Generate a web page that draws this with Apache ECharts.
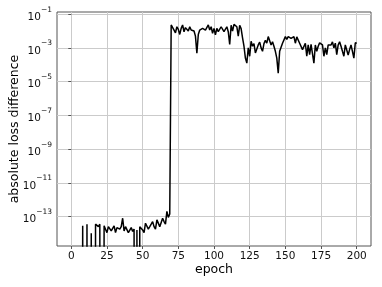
<!DOCTYPE html>
<html>
<head>
<meta charset="utf-8">
<script src="https://cdn.jsdelivr.net/npm/echarts@6/dist/echarts.min.js"></script>
<style>html,body{margin:0;padding:0;background:#fff;}#c{width:382px;height:287px;}</style>
</head>
<body>
<div id="c"></div>
<script>
const epochs = [
  0,1,2,3,4,5,6,7,8,9,10,11,12,13,14,15,16,17,18,19,
  20,21,22,23,24,25,26,27,28,29,30,31,32,33,34,35,36,37,38,39,
  40,41,42,43,44,45,46,47,48,49,50,51,52,53,54,55,56,57,58,59,
  60,61,62,63,64,65,66,67,68,69,70,71,72,73,74,75,76,77,78,79,
  80,81,82,83,84,85,86,87,88,89,90,91,92,93,94,95,96,97,98,99,
  100,101,102,103,104,105,106,107,108,109,110,111,112,113,114,115,116,117,118,119,
  120,121,122,123,124,125,126,127,128,129,130,131,132,133,134,135,136,137,138,139,
  140,141,142,143,144,145,146,147,148,149,150,151,152,153,154,155,156,157,158,159,
  160,161,162,163,164,165,166,167,168,169,170,171,172,173,174,175,176,177,178,179,
  180,181,182,183,184,185,186,187,188,189,190,191,192,193,194,195,196,197,198,199,
  200
];
// absolute loss difference per epoch (0 = exactly zero, clipped at bottom like matplotlib)
const lossDiff = [
  0,0,0,0,0,0,0,0,2.8e-14,3.2e-14,
  0,3.5e-14,2.8e-14,0,1.0e-14,1.1e-14,0,3.5e-14,4.0e-14,2.5e-14,
  3.5e-14,3.2e-14,0,2.8e-14,2.8e-14,1.1e-14,2.5e-14,2.8e-14,1.4e-14,2.0e-14,
  2.8e-14,1.1e-14,2.2e-14,2.8e-14,1.8e-14,2.5e-14,7.9e-14,1.4e-14,2.5e-14,2.8e-14,
  1.1e-14,1.4e-14,2.2e-14,1.3e-14,1.8e-14,0,1.6e-14,0,2.5e-14,2.8e-14,
  1.6e-14,1.1e-14,4.0e-14,3.2e-14,1.8e-14,2.5e-14,3.5e-14,5.0e-14,2.5e-14,1.8e-14,
  6.3e-14,5.0e-14,2.5e-14,2.0e-14,7.9e-14,5.0e-14,3.5e-14,2.0e-13,8.9e-14,1.4e-13,
  2.3e-2,2.0e-2,1.15e-2,7.9e-3,1.8e-2,1.26e-2,6.3e-3,1.45e-2,2.3e-2,9.1e-3,
  1.6e-2,1.26e-2,1.0e-2,1.8e-2,1.15e-2,1.45e-2,1.0e-2,5.0e-3,4.8e-4,6.3e-3,
  1.15e-2,9.1e-3,1.45e-2,1.8e-2,1.15e-2,1.26e-2,2.3e-2,1.15e-2,1.8e-2,7.4e-3,
  1.45e-2,5.9e-3,1.45e-2,9.1e-3,7.4e-3,1.8e-2,2.3e-2,9.1e-3,1.15e-2,1.8e-2,
  9.1e-3,1.6e-3,2.2e-2,1.0e-2,2.5e-2,2.8e-2,1.8e-2,5.0e-3,2.2e-2,1.4e-2,
  4.0e-3,1.26e-3,2.5e-4,1.26e-4,1.0e-3,3.2e-4,2.5e-3,1.26e-3,1.8e-3,5.0e-4,
  4.0e-4,1.5e-3,2.2e-3,1.0e-3,6.3e-4,1.8e-3,2.8e-3,1.9e-3,4.7e-3,3.7e-3,
  1.5e-3,2.3e-3,1.26e-3,6.3e-4,2.5e-4,3.2e-5,6.3e-4,1.1e-3,1.9e-3,1.5e-3,
  4.7e-3,3.2e-3,4.7e-3,5.6e-3,3.7e-3,4.7e-3,4.7e-3,1.9e-3,4.5e-3,3.7e-3,
  1.9e-3,2.0e-3,7.9e-4,6.3e-4,1.9e-3,3.2e-4,1.5e-3,4.0e-4,1.6e-3,1.9e-3,
  1.26e-4,1.5e-3,6.3e-4,1.26e-3,2.0e-3,2.3e-3,1.5e-3,3.2e-4,1.0e-3,4.0e-4,
  1.5e-3,1.2e-3,1.5e-3,2.3e-3,1.0e-3,1.9e-3,4.0e-4,1.5e-3,2.3e-3,1.26e-3,
  6.3e-4,3.2e-4,1.5e-3,1.9e-3,3.8e-4,7.9e-4,1.5e-3,6.3e-4,2.5e-4,2.0e-3,
  1.9e-3
];
const xTicks = [0, 25, 50, 75, 100, 125, 150, 175, 200];
const yTicks = [1e-13, 1e-11, 1e-9, 1e-7, 1e-5, 1e-3, 1e-1];
const xLabel = 'epoch';
const yLabel = 'absolute loss difference';

const CLIP_FLOOR = 1e-100; // zeros are drawn off the bottom of the log axis, as matplotlib clips them
const points = epochs.map((e, i) => [e, lossDiff[i] > 0 ? lossDiff[i] : CLIP_FLOOR]);

function supNum(n) {
  return (n < 0 ? '\u2212' : '') + String(Math.abs(n));
}

const FONT = 'DejaVu Sans';
const chart = echarts.init(document.getElementById('c'), null, {renderer: 'canvas'});
chart.setOption({
  animation: false,
  backgroundColor: '#fff',
  grid: {left: 57, right: 11, top: 12, bottom: 41, containLabel: false, outerBoundsMode: 'none',
         show: true, borderColor: '#555', borderWidth: 1, backgroundColor: 'transparent'},
  xAxis: {
    type: 'value', min: -10, max: 210,
    name: xLabel, nameLocation: 'middle', nameGap: 17, nameMoveOverlap: false,
    nameTextStyle: {fontFamily: FONT, fontSize: 12.5, color: '#000'},
    axisLine: {show: false},
    axisTick: {show: true, customValues: xTicks, length: 3, lineStyle: {color: '#555', width: 1}},
    axisLabel: {customValues: xTicks, margin: 5, fontFamily: FONT, fontSize: 10.5, color: '#111'},
    splitLine: {show: true, lineStyle: {color: '#cbcbcb', width: 1}}
  },
  yAxis: {
    type: 'log', logBase: 10, min: 1.78e-15, max: 0.135,
    name: yLabel, nameLocation: 'middle', nameGap: 36, nameRotate: 90, nameMoveOverlap: false,
    nameTextStyle: {fontFamily: FONT, fontSize: 12.5, color: '#000'},
    axisLine: {show: false},
    axisTick: {show: true, customValues: yTicks, length: 3, lineStyle: {color: '#555', width: 1}},
    minorTick: {show: false},
    axisLabel: {
      customValues: yTicks, margin: 5,
      formatter: v => '{b|10}{s|' + supNum(Math.round(Math.log10(v))) + '}',
      rich: {
        b: {fontFamily: FONT, fontSize: 10.5, color: '#111', lineHeight: 17, verticalAlign: 'bottom'},
        s: {fontFamily: FONT, fontSize: 7.5, color: '#111', lineHeight: 9, verticalAlign: 'top'}
      }
    },
    splitLine: {show: true, lineStyle: {color: '#cbcbcb', width: 1}}
  },
  series: [{
    type: 'line', data: points, symbol: 'none', clip: true,
    lineStyle: {color: '#000', width: 1.5}
  }]
});
</script>
</body>
</html>
